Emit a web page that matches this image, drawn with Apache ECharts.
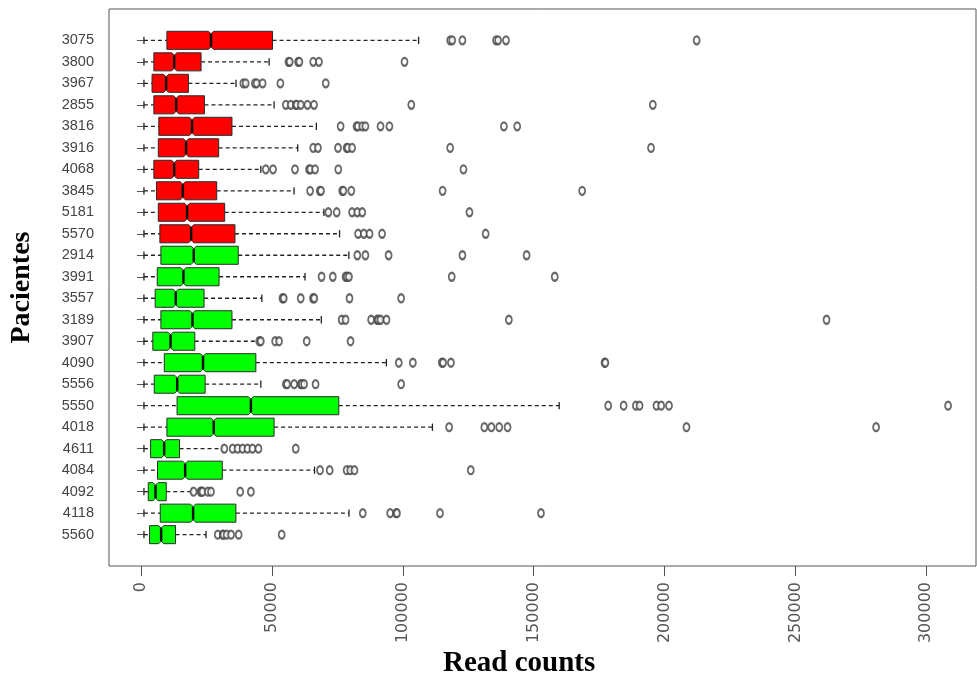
<!DOCTYPE html>
<html>
<head>
<meta charset="utf-8">
<script src="https://cdn.jsdelivr.net/npm/echarts@6/dist/echarts.min.js"></script>
<style>html,body{margin:0;padding:0;background:#fff;}#c{width:977px;height:678px;}</style>
</head>
<body>
<div id="c"></div>
<script>
const patients = ['3075','3800','3967','2855','3816','3916','4068','3845','5181','5570','2914','3991','3557','3189','3907','4090','5556','5550','4018','4611','4084','4092','4118','5560'];
const groups = [0,0,0,0,0,0,0,0,0,0,1,1,1,1,1,1,1,1,1,1,1,1,1,1];
const whiskLow = [0,0,0,0,0,0,0,0,0,0,0,0,0,0,0,0,0,0,0,0,0,0,0,0];
const q1 = [8800,3800,3100,3800,5700,5500,3800,4800,5500,6100,6500,5100,4300,6500,3400,7800,3950,12700,8800,2550,5200,1650,6250,2150];
const median = [25700,11600,8500,12350,18450,16150,11600,14900,16550,18100,19100,15150,12200,18600,10200,22650,12750,41000,26750,7750,15800,4450,18850,6600];
const q3 = [49300,21900,17050,23200,33750,28650,21000,27900,30950,34900,36150,28800,23050,33750,19500,42900,23450,74700,49900,13650,30050,8550,35250,12100];
const whiskHigh = [105300,48000,35300,49900,66100,58950,44800,57550,69000,75000,78550,61750,45200,68000,43900,92950,44800,159200,110600,30200,65400,18450,78600,23800];
const outliers = [
  [117400,118200,122100,135000,135800,138800,211900],
  [55400,55900,59100,59600,64900,67100,99900],
  [38100,39000,42500,43200,45500,52300,69700],
  [54400,56300,58200,58600,60100,62700,65200,102500,195100],
  [75400,81500,82000,83700,84900,90700,94100,138000,143100],
  [64900,66700,74400,77700,78200,79800,117400,194400],
  [46700,49500,57900,63300,63800,65600,74500,122500],
  [63700,67400,67900,76000,76500,79500,114500,168000],
  [70700,73900,79800,81800,83700,124800],
  [82100,84300,86500,91300,131000],
  [81800,84900,93800,122100,146700],
  [68100,72400,77300,77800,78600,118000,157500],
  [53100,53600,60100,64800,65300,78800,98600],
  [75800,77300,87100,89400,89900,90700,93000,139900,261700],
  [44200,44800,50300,51800,62400,79200],
  [97700,103100,114200,114700,117700,176600,176900],
  [54400,54900,57600,60100,60600,61400,65800,98600],
  [178000,183900,188600,190000,196500,198300,201300,308300],
  [117000,130500,133200,136200,139400,208000,280700],
  [30800,34000,35900,37800,39700,41600,43900,58200],
  [67500,71200,77700,79100,80700,125300],
  [19000,21700,22000,22500,24500,25700,36900,41000],
  [83900,94400,96700,97000,113500,152200],
  [28300,30200,30500,31700,33400,36300,52800]
];
const xTicks = [0,50000,100000,150000,200000,250000,300000];
const xMin = -12250, xMax = 319000;
const groupColors = ['#ff0000', '#00ff00'];

const boxData = patients.map((p, i) => [i, whiskLow[i], q1[i], median[i], q3[i], whiskHigh[i], groups[i]]);
const outlierData = [];
outliers.forEach((arr, i) => arr.forEach(v => outlierData.push([v, patients[i]])));

function renderBox(params, api) {
  const cat = api.value(0);
  const lo = api.coord([api.value(1), cat]);
  const b1 = api.coord([api.value(2), cat]);
  const md = api.coord([api.value(3), cat]);
  const b3 = api.coord([api.value(4), cat]);
  const hi = api.coord([api.value(5), cat]);
  const band = api.size([0, 1])[1];
  const y = md[1];
  const h = band * 0.42;
  const st = band * 0.17;
  const n = 2.5, d = h * 0.28;
  const fill = groupColors[api.value(6)];
  const dash = {stroke: '#222', lineWidth: 1.3, lineDash: [4, 3]};
  const solid = {stroke: '#222', lineWidth: 1.3};
  return {type: 'group', children: [
    {type: 'line', shape: {x1: lo[0], y1: y, x2: b1[0], y2: y}, style: dash},
    {type: 'line', shape: {x1: b3[0], y1: y, x2: hi[0], y2: y}, style: dash},
    {type: 'line', shape: {x1: lo[0], y1: y - st, x2: lo[0], y2: y + st}, style: solid},
    {type: 'line', shape: {x1: hi[0], y1: y - st, x2: hi[0], y2: y + st}, style: solid},
    {type: 'polygon', shape: {points: [
      [b1[0], y - h], [md[0] - n, y - h], [md[0], y - h + d], [md[0] + n, y - h], [b3[0], y - h],
      [b3[0], y + h], [md[0] + n, y + h], [md[0], y + h - d], [md[0] - n, y + h], [b1[0], y + h]
    ]}, style: {fill: fill, stroke: '#2a2a2a', lineWidth: 1}},
    {type: 'line', shape: {x1: md[0], y1: y - h + d, x2: md[0], y2: y + h - d}, style: {stroke: '#111', lineWidth: 2.5}}
  ]};
}

const chart = echarts.init(document.getElementById('c'), null, {renderer: 'canvas'});
chart.setOption({
  backgroundColor: '#fff',
  animation: false,
  title: {
    text: 'Read counts', left: 438, top: 644,
    textStyle: {fontFamily: 'Liberation Serif', fontWeight: 'bold', fontSize: 29, color: '#000'}
  },
  grid: [
    {left: 109, right: 1, top: 9, bottom: 112, show: true, borderColor: '#555', borderWidth: 1, backgroundColor: 'transparent'},
    {left: 109, right: 1, top: 29.6, bottom: 132.6}
  ],
  xAxis: [
    {
      type: 'value', gridIndex: 0, min: xMin, max: xMax,
      axisLine: {show: false}, splitLine: {show: false},
      axisTick: {show: true, length: 10, customValues: xTicks, lineStyle: {color: '#555'}},
      axisLabel: {customValues: xTicks, rotate: 90, margin: 16, fontSize: 16, fontFamily: 'DejaVu Sans', color: '#555',
        formatter: v => String(v)}
    },
    {type: 'value', gridIndex: 1, min: xMin, max: xMax, show: false}
  ],
  yAxis: [
    {type: 'value', gridIndex: 0, show: false},
    {
      type: 'category', gridIndex: 1, data: patients, inverse: true,
      axisLine: {show: false}, splitLine: {show: false},
      axisTick: {show: true, alignWithLabel: true, length: 7, lineStyle: {color: '#555'}},
      axisLabel: {margin: 18, fontSize: 14.5, fontFamily: 'Liberation Sans', color: '#444'},
      name: 'Pacientes', nameLocation: 'middle', nameRotate: 90, nameGap: 76,
      nameTextStyle: {fontFamily: 'Liberation Serif', fontWeight: 'bold', fontSize: 28, color: '#000'}
    }
  ],
  series: [
    {
      type: 'custom', xAxisIndex: 1, yAxisIndex: 1, renderItem: renderBox,
      encode: {x: [1, 2, 3, 4, 5], y: 0}, data: boxData, z: 2
    },
    {
      type: 'scatter', xAxisIndex: 1, yAxisIndex: 1, data: outlierData,
      symbol: 'emptyCircle', symbolSize: [6, 8],
      itemStyle: {color: '#444', borderWidth: 1}, z: 3
    }
  ]
});
</script>
</body>
</html>
